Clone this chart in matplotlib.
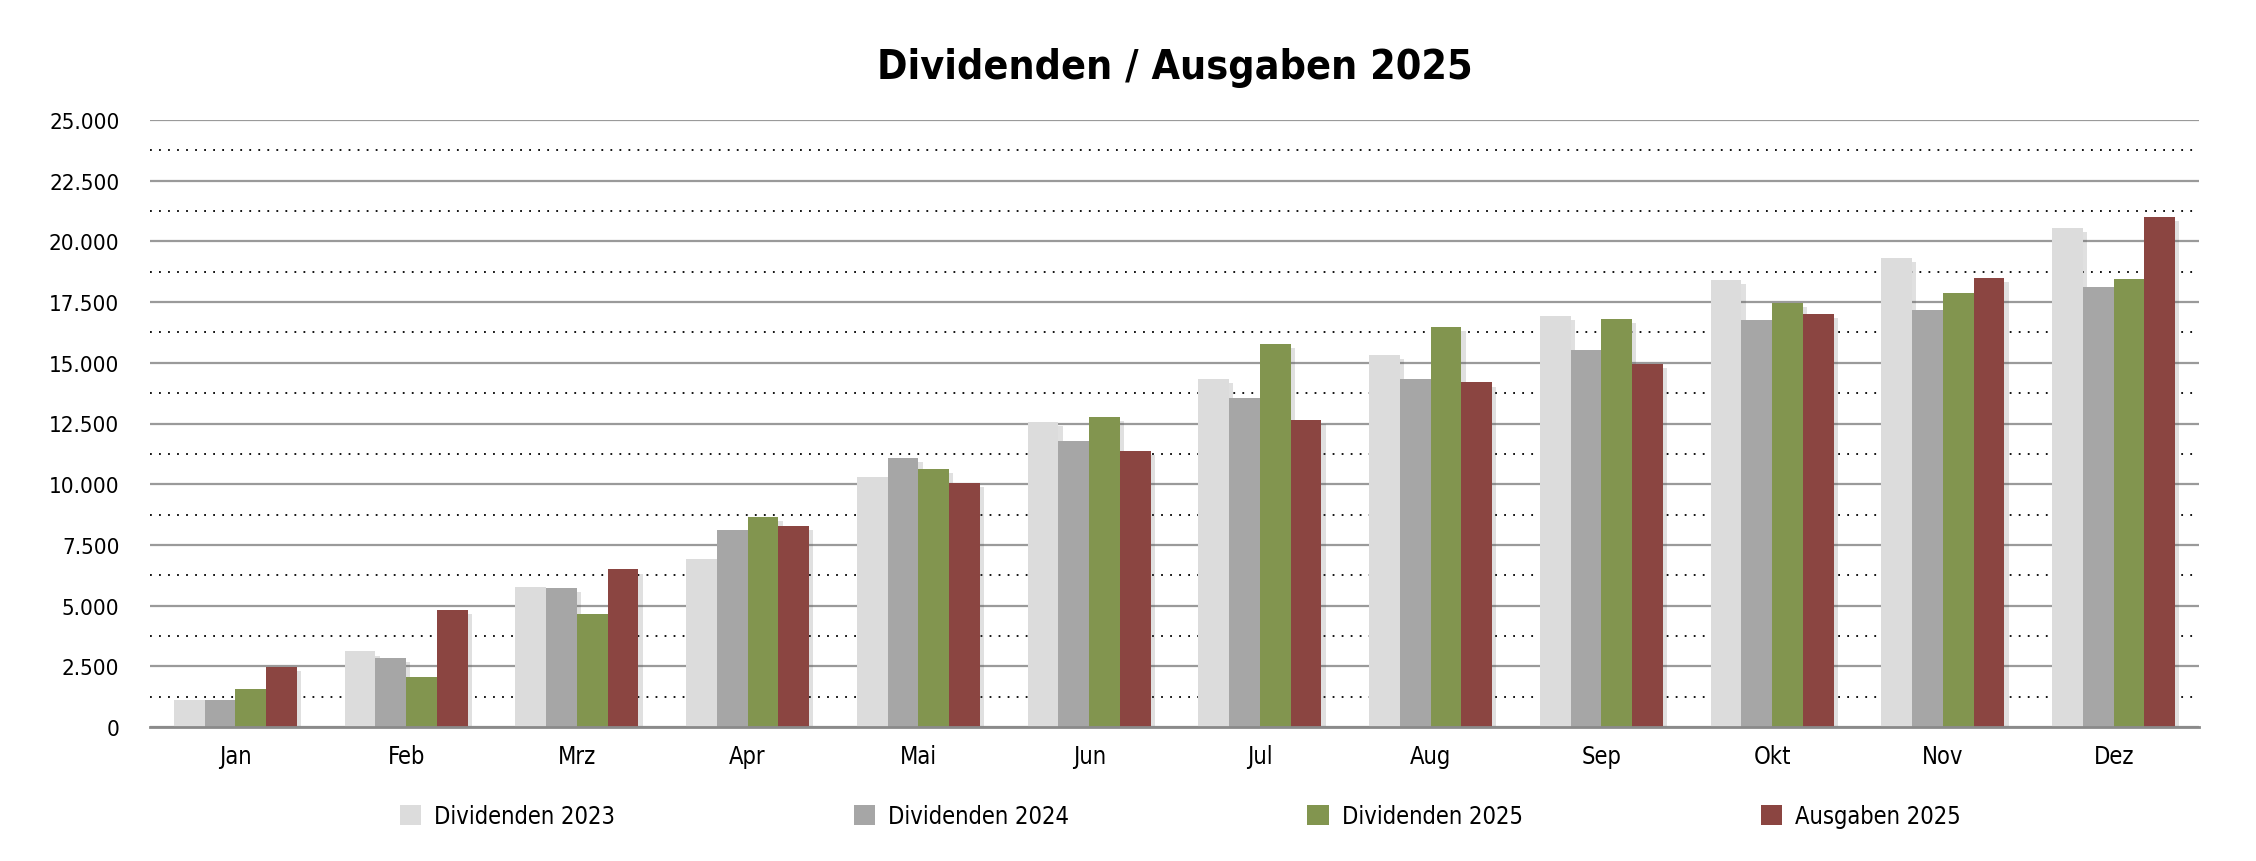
import numpy as np
import matplotlib
matplotlib.use("Agg")
import matplotlib.pyplot as plt
import matplotlib.patheffects as pe
from matplotlib.patches import Patch
from matplotlib.ticker import FuncFormatter, MultipleLocator


months = ["Jan", "Feb", "Mrz", "Apr", "Mai", "Jun", "Jul", "Aug", "Sep", "Okt", "Nov", "Dez"]

div_2023 = [1120, 3115, 5780, 6900, 10300, 12555, 14320, 15340, 16940, 18420, 19330, 20560]
div_2024 = [1120, 2840, 5740, 8130, 11080, 11780, 13540, 14320, 15540, 16780, 17190, 18140]
div_2025 = [1570, 2060, 4645, 8660, 10630, 12760, 15790, 16490, 16810, 17460, 17880, 18470]
ausg_2025 = [2490, 4810, 6490, 8290, 10055, 11370, 12635, 14195, 14970, 17020, 18500, 21020]

series_names = ["Dividenden 2023", "Dividenden 2024", "Dividenden 2025", "Ausgaben 2025"]
colors = ["#dcdcdc", "#a6a6a6", "#82954f", "#8b4541"]

plt.rcParams["font.family"] = "DejaVu Sans"
plt.rcParams["font.stretch"] = "condensed"

fig = plt.figure(figsize=(22.56, 8.62), dpi=100)
ax = fig.add_axes([150 / 2256, 1 - 728 / 862, (2199 - 150) / 2256, (728 - 121) / 862])

x = np.arange(len(months))
width = 0.18
shadow = [pe.SimplePatchShadow(offset=(3, -3), shadow_rgbFace="#555555", alpha=0.18), pe.Normal()]

all_series = [div_2023, div_2024, div_2025, ausg_2025]
for i, values in enumerate(all_series):
    offset = (i - 1.5) * width
    bars = ax.bar(x + offset, values, width, color=colors[i], zorder=3)
    for b in bars:
        b.set_path_effects(shadow)

ax.set_ylim(0, 25000)
ax.set_xlim(-0.5, 11.5)
ax.yaxis.set_major_locator(MultipleLocator(2500))
ax.yaxis.set_minor_locator(MultipleLocator(1250))
ax.yaxis.set_major_formatter(FuncFormatter(lambda v, p: f"{int(v):,}".replace(",", ".")))

ax.grid(axis="y", which="major", color="#9a9a9a", linewidth=1.6, zorder=1)
ax.grid(axis="y", which="minor", color="black", linestyle=(0, (1, 4)), linewidth=1.3, zorder=1)
ax.set_axisbelow(True)

ax.set_xticks(x)
ax.set_xticklabels(months)
ax.tick_params(axis="x", length=0, pad=12, labelsize=17)
ax.tick_params(axis="y", which="both", length=0, pad=22, labelsize=16)

for side in ["left", "right", "top"]:
    ax.spines[side].set_visible(False)
ax.spines["bottom"].set_color("#8a8a8a")
ax.spines["bottom"].set_linewidth(2)
ax.spines["bottom"].set_zorder(4)

fig.text((150 + 2199) / 2 / 2256, 1 - 68 / 862, "Dividenden / Ausgaben 2025",
         ha="center", va="center", fontsize=29.5, fontweight="bold")

handles = [Patch(facecolor=c, edgecolor="none") for c in colors]
leg = fig.legend(handles, series_names, ncol=4, loc="center left",
                 bbox_to_anchor=(400 / 2256, 1 - 817 / 862), frameon=False,
                 fontsize=17, handlelength=0.9, handleheight=0.9,
                 handletextpad=0.55, columnspacing=10.1, borderpad=0, borderaxespad=0)

fig.savefig("out.png", dpi=100)
